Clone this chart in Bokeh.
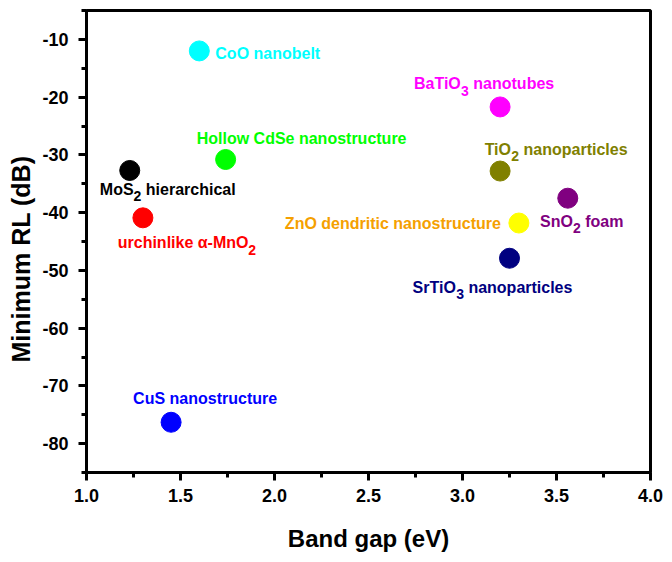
from bokeh.plotting import figure
from bokeh.models import ColumnDataSource, FixedTicker, PrintfTickFormatter, Range1d, Title
from bokeh.embed import file_html
from bokeh.resources import INLINE
from bokeh.core.properties import value

# ---- data ----
names = ["CoO nanobelt", "BaTiO3 nanotubes", "Hollow CdSe nanostructure",
         "MoS2 hierarchical", "TiO2 nanoparticles", "SnO2 foam",
         "urchinlike α-MnO2", "ZnO dendritic nanostructure",
         "SrTiO3 nanoparticles", "CuS nanostructure"]
# label pieces; pieces starting with "_" are subscripts
label_parts = [["CoO nanobelt"],
               ["BaTiO", "_3", " nanotubes"],
               ["Hollow CdSe nanostructure"],
               ["MoS", "_2", " hierarchical"],
               ["TiO", "_2", " nanoparticles"],
               ["SnO", "_2", " foam"],
               ["urchinlike α-MnO", "_2"],
               ["ZnO dendritic nanostructure"],
               ["SrTiO", "_3", " nanoparticles"],
               ["CuS nanostructure"]]
band_gap = [1.60, 3.20, 1.74, 1.23, 3.20, 3.56, 1.30, 3.30, 3.25, 1.45]
min_rl = [-12.0, -21.7, -30.8, -32.7, -32.8, -37.5, -40.9, -41.8, -47.9, -76.3]
marker_colors = ["#00FFFF", "#FF00FF", "#00FF00", "#000000", "#808000",
                 "#800080", "#FF0000", "#FFFF00", "#000080", "#0000FF"]
label_colors = ["#00FFFF", "#FF00FF", "#00FF00", "#000000", "#808000",
                "#800080", "#FF0000", "#F5A000", "#000080", "#0000FF"]
x_ticks = [1.0, 1.5, 2.0, 2.5, 3.0, 3.5, 4.0]
y_ticks = [-80, -70, -60, -50, -40, -30, -20, -10]

# ---- label layout (pixel offsets from the marker, styling only) ----
label_dx = [16, -16, 76, 38, 56, 14, 44, -18, -17, 34]
label_dy = [8, -18, -16, 24, -17, 28, 30, 5, 34, -19]   # baseline, screen px (down +)
label_align = ["left", "center", "center", "center", "center", "center",
               "center", "right", "center", "center"]
DY_FIX = -5.0

FONT = "Liberation Sans"
MAIN_PX = 16.0
SUB_PX = 14.0
SUB_SHIFT = 7.0

# Arial/Liberation Sans Bold advance widths (per 1000 em)
W = {' ': 278, '-': 333, '.': 278, '(': 333, ')': 333, 'α': 600}
for c in "0123456789":
    W[c] = 556
W.update(dict(A=722, B=722, C=722, D=722, E=667, H=722, M=833, O=778, R=722,
              S=667, T=611, Z=611, a=556, b=611, c=556, d=611, e=556, f=333,
              g=611, h=611, i=278, k=556, l=278, m=889, n=611, o=611, p=611,
              r=389, s=556, t=333, u=611, w=778))


def text_w(s, px):
    return sum(W.get(ch, 556) for ch in s) * px / 1000.0


seg = dict(x=[], y=[], text=[], xo=[], yo=[], color=[])
sub = dict(x=[], y=[], text=[], xo=[], yo=[], color=[])
for i, parts in enumerate(label_parts):
    widths = [text_w(pt[1:], SUB_PX) if pt.startswith("_") else text_w(pt, MAIN_PX)
              for pt in parts]
    total = sum(widths)
    if label_align[i] == "left":
        start = label_dx[i]
    elif label_align[i] == "right":
        start = label_dx[i] - total
    else:
        start = label_dx[i] - total / 2.0
    cur = start
    for pt, w in zip(parts, widths):
        is_sub = pt.startswith("_")
        d = sub if is_sub else seg
        txt = pt[1:] if is_sub else pt
        lead = len(txt) - len(txt.lstrip(" "))
        shift = text_w(" " * lead, MAIN_PX)
        d["x"].append(band_gap[i])
        d["y"].append(min_rl[i])
        d["text"].append(txt.lstrip(" "))
        d["xo"].append(cur + shift)
        d["yo"].append(label_dy[i] + DY_FIX + (SUB_SHIFT if is_sub else 0))
        d["color"].append(label_colors[i])
        cur += w

src = ColumnDataSource(dict(x=band_gap, y=min_rl, name=names, mc=marker_colors))

p = figure(width=672, height=562, output_backend="svg", toolbar_location=None,
           x_range=Range1d(1.0, 4.0), y_range=Range1d(-85, -5),
           min_border_left=86, min_border_right=22, min_border_top=10,
           min_border_bottom=90)
p.grid.visible = False
p.outline_line_color = "black"
p.outline_line_width = 3
p.background_fill_color = "white"
p.border_fill_color = "white"

p.scatter("x", "y", source=src, size=20, fill_color="mc", line_color="mc")
p.text("x", "y", text="text", source=ColumnDataSource(seg), x_offset="xo", y_offset="yo",
       text_align="left", text_baseline="alphabetic", text_color="color",
       text_font=value(FONT), text_font_style="bold", text_font_size=f"{MAIN_PX}px")
p.text("x", "y", text="text", source=ColumnDataSource(sub), x_offset="xo", y_offset="yo",
       text_align="left", text_baseline="alphabetic", text_color="color",
       text_font=value(FONT), text_font_style="bold", text_font_size=f"{SUB_PX}px")

for ax in (p.xaxis[0], p.yaxis[0]):
    ax.axis_line_width = 3
    ax.major_tick_line_width = 3
    ax.minor_tick_line_width = 3
    ax.major_tick_in = 0
    ax.major_tick_out = 8
    ax.minor_tick_in = 0
    ax.minor_tick_out = 5
    ax.major_label_text_font = FONT
    ax.major_label_text_font_style = "bold"
    ax.major_label_text_font_size = "18px"
    ax.major_label_text_color = "black"
    ax.axis_label_text_font = FONT
    ax.axis_label_text_font_style = "bold"
    ax.axis_label_text_color = "black"

p.xaxis.ticker = FixedTicker(ticks=x_ticks, minor_ticks=[1.25 + 0.5 * i for i in range(6)])
p.xaxis.formatter = PrintfTickFormatter(format="%.1f")
p.yaxis.ticker = FixedTicker(ticks=y_ticks, minor_ticks=[-85 + 10 * i for i in range(9)])
p.yaxis.formatter = PrintfTickFormatter(format="%d")
p.xaxis.axis_label = "Band gap (eV)"
p.xaxis.axis_label_text_font_size = "24px"
p.xaxis.major_label_standoff = 8
p.xaxis.axis_label_standoff = 20
p.yaxis.major_label_standoff = 10

# y-axis title, placed as a side title so it can sit below the frame centre
ytitle = Title(text="Minimum RL (dB)", align="left", offset=110, vertical_align="top",
               standoff=6, text_font=FONT, text_font_style="bold",
               text_font_size="25px", text_color="black")
p.add_layout(ytitle, "left")

open("out.html", "w").write(file_html(p, INLINE))
